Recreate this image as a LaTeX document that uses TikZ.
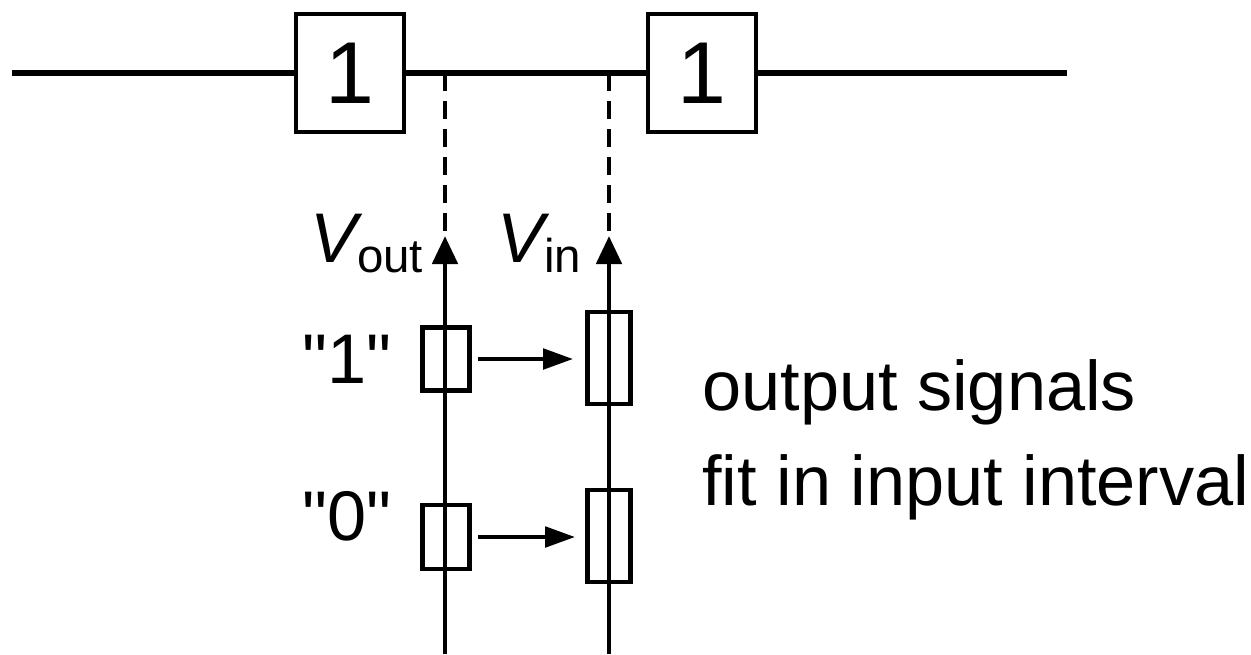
\documentclass[tikz,border=0pt]{standalone}
\usepackage{fontspec}
\setmainfont{Liberation Sans}
\usetikzlibrary{arrows.meta}

\begin{document}
\begin{tikzpicture}
        [%%%%%%%%%%%%%%%%%%%%%%%%%%%%%%
        x=0.02cm, y=-0.02cm,
        gate/.style={draw, line width=2.8pt, minimum width=2.16cm, minimum height=2.36cm,
          inner sep=0pt, font=\fontsize{50}{50}\selectfont},
        level/.style={draw, line width=2.6pt, inner sep=0pt},
        wire/.style={line width=3.3pt},
        axis/.style={line width=2.8pt, -{Triangle[length=0.56cm, width=0.5cm]}},
        probe/.style={line width=2.6pt, dash pattern=on 0.36cm off 0.2cm},
        map/.style={line width=2.8pt, -{Triangle[length=0.6cm, width=0.4cm]}},
        txt/.style={inner sep=0pt, font=\fontsize{40}{48}\selectfont},
        ]%%%%%%%%%%%%%%%%%%%%%%%%%%%%%%
        \useasboundingbox (0,0) rectangle (1251,654);
        % Two inverters in a row
        \node[gate] (g1) at (350,73) {1};
        \node[gate] (g2) at (702,73) {1};
        \coordinate (lin) at (12,73);
        \coordinate (lout) at (1067,73);
        \draw[wire] (lin) -- (g1.west);
        \draw[wire] (g1.east) -- (g2.west);
        \draw[wire] (g2.east) -- (lout);
        % Voltage axes
        \coordinate (tapout) at (445,73);
        \coordinate (tapin) at (609,73);
        \coordinate (topout) at (445,236);
        \coordinate (topin) at (609,236);
        \coordinate (botout) at (445,654);
        \coordinate (botin) at (609,654);
        \draw[probe] (tapout) -- (topout);
        \draw[probe] (tapin) -- (topin);
        \draw[axis] (botout) -- (topout);
        \draw[axis] (botin) -- (topin);
        \node[txt, anchor=base west] (vout) at (310,262)
          {\fontsize{40}{40}\selectfont\itshape V\raisebox{-0.2cm}{\fontsize{27}{27}\selectfont\upshape out}};
        \node[txt, anchor=base west] (vin) at (497,262)
          {\fontsize{40}{40}\selectfont\itshape V\raisebox{-0.2cm}{\fontsize{27}{27}\selectfont\upshape in}};
        % Output and input intervals
        \node[level, minimum width=0.94cm, minimum height=1.26cm] (out1) at (446,359) {};
        \node[level, minimum width=0.86cm, minimum height=1.84cm] (in1) at (609,358) {};
        \node[level, minimum width=0.94cm, minimum height=1.28cm] (out0) at (446,537) {};
        \node[level, minimum width=0.86cm, minimum height=1.84cm] (in0) at (609,536) {};
        \draw[map, shorten <=0.12cm, shorten >=0.24cm] (out1.east) -- (out1.east -| in1.west);
        \draw[map, shorten <=0.12cm, shorten >=0.2cm] (out0.east) -- (out0.east -| in0.west);
        \node[txt, anchor=base] (q1) at (347,383) {\textquotedbl 1\textquotedbl};
        \node[txt, anchor=base] (q0) at (347,540) {\textquotedbl 0\textquotedbl};
        % Text
        \node[txt, anchor=base west] (note1) at (702,410) {output signals};
        \node[txt, anchor=base west] (note2) at (702,505) {fit in input interval};
      \end{tikzpicture}
\end{document}
